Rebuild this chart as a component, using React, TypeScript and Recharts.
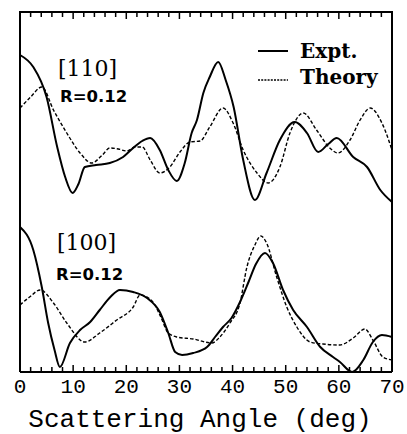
import { LineChart, Line, XAxis, YAxis } from 'recharts';

// Angular scans, scattering angle in degrees; intensities in arbitrary units
// (the [110] scan is stacked above the [100] scan in the same frame).
const expt110Angle = [0, 2.5, 5, 7, 8.5, 9.9, 11, 12.2, 14.3, 16.9, 19.4, 21.3, 23, 24.5, 26.3, 27.9, 29.5, 31, 32.3, 33.3, 34.5, 35.7, 37.3, 38.7, 40.2, 42, 44.2, 46.4, 48.9, 51.7, 54, 56.1, 58, 59.6, 62.7, 65.3, 67.8, 70];
const expt110Value = [317, 305, 275, 225, 195, 179, 188, 205, 207, 209, 215, 224, 231, 234, 222, 202, 191, 209, 239, 252, 279, 295, 310, 292, 265, 212, 172, 199, 232, 250, 239, 220, 228, 234, 215, 205, 182, 170];

const theory110Angle = [0, 2, 4.1, 6.3, 8.8, 11.3, 13.5, 15.5, 16.9, 18.5, 20.1, 21.6, 23, 24.5, 26.3, 28.2, 30.1, 32, 33.9, 35.7, 38.2, 40.1, 42, 44.6, 46.7, 48.9, 50.8, 53.3, 55.8, 58.3, 59.8, 62.1, 64, 65.9, 68.1, 70];
const theory110Value = [264, 275, 285, 262, 239, 219, 209, 217, 224, 223, 221, 225, 225, 212, 199, 205, 220, 230, 231, 245, 264, 249, 222, 199, 189, 205, 239, 259, 242, 224, 219, 232, 252, 264, 249, 222];

const expt100Angle = [0, 2.5, 4.1, 5.3, 6.5, 7.5, 9.4, 11.3, 13.2, 15, 17, 18.8, 21.3, 23.9, 26.3, 27.9, 29.2, 30.5, 32.6, 35.2, 36.7, 38.2, 39.8, 41.4, 43, 44.4, 46.1, 47.6, 49.5, 51.4, 54, 56.5, 58.9, 60.2, 62.5, 64.6, 66.4, 68.1, 70];
const expt100Value = [145, 122, 85, 49, 22, 5, 29, 42, 50, 62, 75, 82, 80, 74, 60, 39, 20, 17, 19, 25, 35, 45, 54, 70, 90, 108, 119, 109, 82, 62, 45, 25, 15, 10, 0, 12, 30, 37, 35];

const theory100Angle = [0, 1.8, 3.8, 6.3, 8.8, 12.2, 15, 18.2, 21.3, 22.6, 25, 26.5, 27.9, 29.5, 32.6, 36.1, 37.6, 39.5, 41.4, 42.7, 44.2, 45.3, 46.4, 48.3, 50.2, 52.1, 54.6, 57, 60.2, 62.7, 64.9, 66.4, 68.3, 70];
const theory100Value = [67, 75, 82, 69, 49, 30, 39, 52, 65, 77, 70, 55, 39, 35, 33, 29, 35, 49, 69, 105, 127, 136, 129, 95, 65, 45, 30, 28, 27, 34, 43, 32, 15, 12];

const angleTicks = [0, 2, 4, 6, 8, 10, 12, 14, 16, 18, 20, 22, 24, 26, 28, 30, 32, 34, 36, 38, 40, 42, 44, 46, 48, 50, 52, 54, 56, 58, 60, 62, 64, 66, 68, 70];

const X_MAX = 70;
const Y_MAX = 360;

const toPoints = (angles: number[], values: number[]) =>
  angles.map((a, i) => ({ angle: a, v: values[i] }));

const expt110 = toPoints(expt110Angle, expt110Value);
const theory110 = toPoints(theory110Angle, theory110Value);
const expt100 = toPoints(expt100Angle, expt100Value);
const theory100 = toPoints(theory100Angle, theory100Value);

// chart box; the y axes are 1px wide, so the plot spans LEFT..RIGHT, TOP down
const W = 407;
const H = 434;
const MARGIN = { top: 12, right: 14, left: 19, bottom: 0 };
const PLOT_LEFT = MARGIN.left + 1;
const PLOT_RIGHT = W - MARGIN.right - 1;
const PLOT_TOP = MARGIN.top;
const angleToX = (a: number) => PLOT_LEFT + (a / X_MAX) * (PLOT_RIGHT - PLOT_LEFT);

const DASH = '3.5 2';
const MONO = '"Liberation Mono", "Courier New", monospace';
const SERIF = '"DejaVu Serif", serif';
const SANS = '"DejaVu Sans", sans-serif';
const FRAME = { stroke: '#000', strokeWidth: 2 };

// bottom axis: inward tick marks, numbers only on the decades
function BottomTick(props: any) {
  const { x, y, payload } = props;
  const major = payload.value % 10 === 0;
  return (
    <g>
      <line x1={x} x2={x} y1={y} y2={y - (major ? 7 : 5)} stroke="#000" strokeWidth={1.5} />
      {major && (
        <text x={x} y={y + 21} textAnchor="middle" fontFamily={MONO} fontSize={21} fill="#000">
          {payload.value}
        </text>
      )}
    </g>
  );
}

export default function App() {
  return (
    <div style={{ position: 'absolute', left: 0, top: 0, width: W, height: H, background: '#fff' }}>
      <LineChart width={W} height={H} margin={MARGIN}>
        <XAxis
          dataKey="angle"
          type="number"
          domain={[0, X_MAX]}
          ticks={angleTicks}
          interval={0}
          height={62}
          tickSize={0}
          tickMargin={0}
          tickLine={false}
          tick={<BottomTick />}
          axisLine={FRAME}
        />
        <YAxis
          type="number"
          domain={[0, Y_MAX]}
          width={1}
          tick={false}
          tickLine={false}
          axisLine={FRAME}
        />
        <YAxis
          yAxisId="right"
          orientation="right"
          type="number"
          domain={[0, Y_MAX]}
          width={1}
          tick={false}
          tickLine={false}
          axisLine={FRAME}
        />
        <Line
          data={expt110}
          dataKey="v"
          name="Expt."
          type="monotone"
          stroke="#000"
          strokeWidth={2}
          dot={false}
          isAnimationActive={false}
        />
        <Line
          data={theory110}
          dataKey="v"
          name="Theory"
          type="monotone"
          stroke="#000"
          strokeWidth={1.4}
          strokeDasharray={DASH}
          dot={false}
          isAnimationActive={false}
        />
        <Line
          data={expt100}
          dataKey="v"
          name="expt100"
          type="monotone"
          stroke="#000"
          strokeWidth={2}
          dot={false}
          isAnimationActive={false}
        />
        <Line
          data={theory100}
          dataKey="v"
          name="theory100"
          type="monotone"
          stroke="#000"
          strokeWidth={1.4}
          strokeDasharray={DASH}
          dot={false}
          isAnimationActive={false}
        />

        {/* top edge of the frame with its inward ticks */}
        <line x1={PLOT_LEFT - 1} x2={PLOT_RIGHT + 1} y1={PLOT_TOP} y2={PLOT_TOP} stroke="#000" strokeWidth={2} />
        {angleTicks.map(t => (
          <line
            key={`tt${t}`}
            x1={angleToX(t)}
            x2={angleToX(t)}
            y1={PLOT_TOP}
            y2={PLOT_TOP + (t % 10 === 0 ? 7 : 5)}
            stroke="#000"
            strokeWidth={1.5}
          />
        ))}

        {/* key */}
        <line x1={258} x2={288} y1={51} y2={51} stroke="#000" strokeWidth={2} />
        <text x={300} y={58} fontFamily={SERIF} fontWeight="bold" fontSize={20} fill="#000">Expt.</text>
        <line x1={258} x2={288} y1={80} y2={80} stroke="#000" strokeWidth={1.4} strokeDasharray="2 1.2" />
        <text x={300} y={84} fontFamily={SERIF} fontWeight="bold" fontSize={20} fill="#000">Theory</text>

        <text x={58} y={76} fontFamily={SERIF} fontSize={22} fill="#000">[110]</text>
        <text x={60} y={102} fontFamily={SANS} fontWeight="bold" fontSize={16.5} fill="#000">R=0.12</text>
        <text x={57} y={250} fontFamily={SERIF} fontSize={22} fill="#000">[100]</text>
        <text x={56} y={280} fontFamily={SANS} fontWeight="bold" fontSize={16.5} fill="#000">R=0.12</text>
        <text x={200} y={427} textAnchor="middle" fontFamily={MONO} fontSize={26} fill="#000">
          Scattering Angle (deg)
        </text>
      </LineChart>
    </div>
  );
}
